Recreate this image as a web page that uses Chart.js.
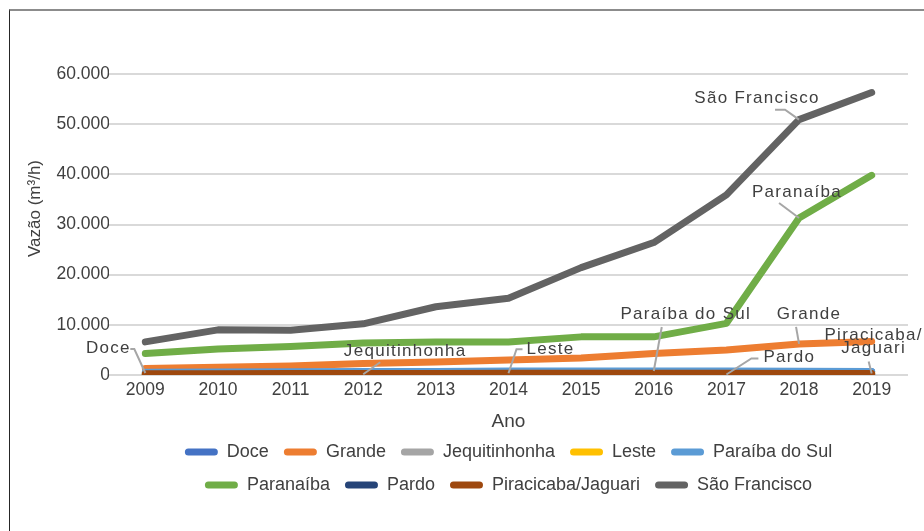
<!DOCTYPE html>
<html>
<head>
<meta charset="utf-8">
<script src="https://cdn.jsdelivr.net/npm/chart.js@4.4.1/dist/chart.umd.min.js"></script>
<style>
    html, body { margin: 0; padding: 0; background: #fff; }
    #wrap { position: relative; width: 924px; height: 531px; overflow: hidden; }
    #frame { position: absolute; left: 9px; top: 9px; right: -10px; bottom: -10px;
             border-top: 2px solid #8c8c8c; border-left: 1.5px solid #262626; }
    #chart { position: absolute; left: 0; top: 0; }
</style>
</head>
<body>
<div id="wrap">
    <div id="frame"></div>
    <canvas id="chart" width="924" height="531"></canvas>
</div>
<script>
// Vazão outorgada por bacia (m³/h), 2009-2019
const years = ['2009', '2010', '2011', '2012', '2013', '2014', '2015', '2016', '2017', '2018', '2019'];

const doce          = [400, 420, 450, 480, 500, 520, 550, 580, 600, 620, 650];
const grande        = [1300, 1550, 1800, 2300, 2600, 3000, 3400, 4300, 5000, 6200, 6700];
const jequitinhonha = [100, 100, 100, 150, 150, 150, 200, 200, 200, 250, 250];
const leste         = [200, 250, 250, 300, 300, 350, 350, 400, 400, 450, 450];
const paraibaSul    = [550, 600, 650, 700, 700, 800, 800, 800, 800, 750, 700];
const paranaiba     = [4300, 5200, 5700, 6400, 6600, 6600, 7600, 7600, 10300, 31300, 39800];
const pardo         = [50, 50, 50, 80, 80, 100, 100, 100, 100, 120, 120];
const piracicaba    = [250, 250, 280, 300, 300, 330, 330, 330, 330, 300, 300];
const saoFrancisco  = [6600, 9000, 8900, 10200, 13600, 15300, 21400, 26400, 35900, 50900, 56300];

const yTicks = [0, 10000, 20000, 30000, 40000, 50000, 60000];
const yTitle = 'Vazão (m³/h)';

const series = [
    ['Doce', doce, '#4472C4'],
    ['Grande', grande, '#ED7D31'],
    ['Jequitinhonha', jequitinhonha, '#A5A5A5'],
    ['Leste', leste, '#FFC000'],
    ['Paraíba do Sul', paraibaSul, '#5B9BD5'],
    ['Paranaíba', paranaiba, '#70AD47'],
    ['Pardo', pardo, '#264478'],
    ['Piracicaba/Jaguari', piracicaba, '#9E480E'],
    ['São Francisco', saoFrancisco, '#636363']
];

// data labels: dataset, point index, text lines, offset from the point, leader path
const callouts = [
    { ds: 0, i: 0,  lines: ['Doce'],          dx: -37, dy: -25, leader: [[-15, -24], [-11, -24], [0, 0]] },
    { ds: 2, i: 3,  lines: ['Jequitinhonha'], dx: 42,  dy: -23, leader: [[17, -12], [0, 0]] },
    { ds: 3, i: 5,  lines: ['Leste'],         dx: 42,  dy: -24, leader: [[14, -24], [8, -24], [0, 0]] },
    { ds: 4, i: 7,  lines: ['Paraíba do Sul'], dx: 32, dy: -57, leader: [[8, -44], [0, 0]] },
    { ds: 6, i: 8,  lines: ['Pardo'],         dx: 63,  dy: -17, leader: [[32, -16], [25, -16], [0, 0]] },
    { ds: 1, i: 9,  lines: ['Grande'],        dx: 10,  dy: -30, leader: [[-3, -17], [0, 0]] },
    { ds: 7, i: 10, lines: ['Piracicaba/', 'Jaguari'], dx: 2, dy: -38, leader: [[-3, -12], [0, 0]] },
    { ds: 5, i: 9,  lines: ['Paranaíba'],     dx: -2,  dy: -26, leader: [[-20, -15], [0, 0]] },
    { ds: 8, i: 9,  lines: ['São Francisco'], dx: -42, dy: -21, leader: [[-24, -10], [-14, -10], [0, 0]] }
];

const textColor = '#404040';
const fontFamily = '"Liberation Sans", Arial, sans-serif';

function formatThousands(v) {
    return String(v).replace(/\B(?=(\d{3})+(?!\d))/g, '.');
}

const calloutPlugin = {
    id: 'callouts',
    afterDatasetsDraw(chart) {
        const ctx = chart.ctx;
        ctx.save();
        ctx.font = '17px ' + fontFamily;
        ctx.letterSpacing = '1.3px';
        ctx.textAlign = 'center';
        ctx.textBaseline = 'middle';
        callouts.forEach(c => {
            const pt = chart.getDatasetMeta(c.ds).data[c.i];
            if (!pt) return;
            ctx.strokeStyle = '#a6a6a6';
            ctx.lineWidth = 2;
            ctx.beginPath();
            c.leader.forEach((p, k) => {
                if (k === 0) ctx.moveTo(pt.x + p[0], pt.y + p[1]);
                else ctx.lineTo(pt.x + p[0], pt.y + p[1]);
            });
            ctx.stroke();
            ctx.fillStyle = textColor;
            c.lines.forEach((line, k) => {
                ctx.fillText(line, pt.x + c.dx, pt.y + c.dy + k * 12.5);
            });
        });
        ctx.restore();
    }
};

// y axis title, sitting a little above the middle of the plot like the original
const yTitlePlugin = {
    id: 'yTitle',
    afterDraw(chart) {
        const { ctx, chartArea } = chart;
        ctx.save();
        ctx.font = '17px ' + fontFamily;
        ctx.fillStyle = textColor;
        ctx.textAlign = 'center';
        ctx.textBaseline = 'middle';
        ctx.translate(35, (chartArea.top + chartArea.bottom) / 2 - 16);
        ctx.rotate(-Math.PI / 2);
        ctx.fillText(yTitle, 0, 0);
        ctx.restore();
    }
};

new Chart(document.getElementById('chart'), {
    type: 'line',
    data: {
        labels: years,
        datasets: series.map(([name, values, color], idx) => ({
            label: name,
            data: values,
            borderColor: color,
            backgroundColor: color,
            borderWidth: 7,
            borderCapStyle: 'round',
            borderJoinStyle: 'round',
            pointRadius: 0,
            tension: 0,
            order: series.length - idx
        }))
    },
    options: {
        responsive: false,
        animation: false,
        layout: { padding: { left: 10, top: 74, right: 16, bottom: 27 } },
        plugins: {
            tooltip: { enabled: false },
            legend: {
                position: 'bottom',
                fullSize: false,
                labels: {
                    color: textColor,
                    font: { size: 18, family: fontFamily },
                    boxWidth: 33,
                    boxHeight: 7,
                    useBorderRadius: true,
                    borderRadius: 3.5,
                    padding: 15,
                    sort: (a, b) => a.datasetIndex - b.datasetIndex,
                    generateLabels: chart =>
                        Chart.defaults.plugins.legend.labels.generateLabels(chart)
                            .map(l => ({ ...l, lineWidth: 0 }))
                }
            }
        },
        scales: {
            x: {
                offset: true,
                grid: { display: false, drawTicks: false },
                border: { display: false },
                ticks: { color: textColor, font: { size: 17.5, family: fontFamily }, padding: 5, maxRotation: 0 },
                title: { display: true, text: 'Ano', color: textColor, font: { size: 19, family: fontFamily }, padding: { top: 4, bottom: -5 } },
                afterFit: scale => { scale.height = 53; }
            },
            y: {
                min: 0,
                max: 60000,
                afterBuildTicks: scale => { scale.ticks = yTicks.map(v => ({ value: v })); },
                grid: { color: '#d9d9d9', lineWidth: 2, drawTicks: false },
                border: { display: false },
                ticks: { color: textColor, font: { size: 17.5, family: fontFamily }, padding: -1, callback: v => formatThousands(v) },
                afterFit: scale => { scale.width = 99; }
            }
        }
    },
    plugins: [calloutPlugin, yTitlePlugin]
});
</script>
</body>
</html>
